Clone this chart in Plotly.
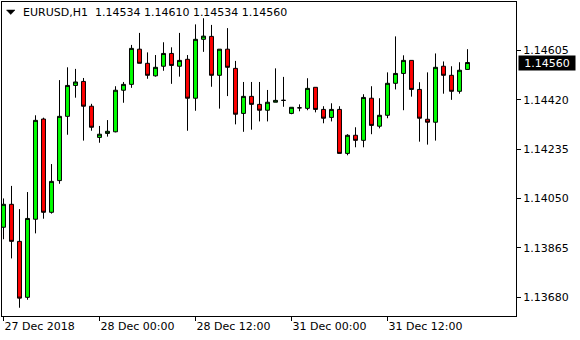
import pandas as pd
import plotly.graph_objects as go

symbol = "EURUSD,H1"

bar_times = list(pd.date_range("2018-12-27 12:00", "2018-12-28 23:00", freq="h")) + \
            list(pd.date_range("2018-12-31 00:00", periods=23, freq="h"))

opens = [1.13942, 1.14028, 1.13889, 1.13679, 1.13972, 1.14348, 1.13998, 1.14117, 1.14358, 1.14474,
         1.14489, 1.14396, 1.14279, 1.14294, 1.14300, 1.14456, 1.14478, 1.14610, 1.14557, 1.14510,
         1.14546, 1.14594, 1.14546, 1.14572, 1.14426, 1.14647, 1.14658, 1.14512, 1.14610, 1.14538,
         1.14369, 1.14433, 1.14403, 1.14381, 1.14411, 1.14418, 1.14369, 1.14390, 1.14388, 1.14467,
         1.14384, 1.14354, 1.14384, 1.14219, 1.14287, 1.14268, 1.14426, 1.14321, 1.14362, 1.14482,
         1.14519, 1.14568, 1.14459, 1.14347, 1.14336, 1.14546, 1.14512, 1.14452, 1.14534]
highs = [1.14050, 1.14097, 1.14010, 1.14074, 1.14362, 1.14353, 1.14179, 1.14494, 1.14542, 1.14536,
         1.14502, 1.14405, 1.14322, 1.14344, 1.14471, 1.14487, 1.14626, 1.14671, 1.14598, 1.14588,
         1.14636, 1.14617, 1.14671, 1.14588, 1.14703, 1.14726, 1.14701, 1.14610, 1.14689, 1.14566,
         1.14487, 1.14487, 1.14487, 1.14457, 1.14538, 1.14506, 1.14392, 1.14403, 1.14501, 1.14467,
         1.14396, 1.14407, 1.14396, 1.14291, 1.14317, 1.14441, 1.14471, 1.14426, 1.14523, 1.14658,
         1.14587, 1.14568, 1.14486, 1.14523, 1.14594, 1.14564, 1.14546, 1.14561, 1.14610]
lows = [1.13897, 1.13825, 1.13640, 1.13670, 1.13919, 1.13974, 1.13993, 1.14105, 1.14289, 1.14428,
        1.14267, 1.14304, 1.14259, 1.14282, 1.14298, 1.14409, 1.14465, 1.14557, 1.14499, 1.14507,
        1.14529, 1.14480, 1.14507, 1.14304, 1.14379, 1.14600, 1.14469, 1.14387, 1.14434, 1.14328,
        1.14300, 1.14308, 1.14339, 1.14339, 1.14411, 1.14394, 1.14366, 1.14377, 1.14381, 1.14373,
        1.14332, 1.14339, 1.14219, 1.14212, 1.14242, 1.14242, 1.14291, 1.14313, 1.14351, 1.14459,
        1.14381, 1.14432, 1.14263, 1.14252, 1.14267, 1.14443, 1.14420, 1.14443, 1.14534]
closes = [1.14028, 1.13889, 1.13676, 1.13975, 1.14343, 1.13998, 1.14114, 1.14358, 1.14474, 1.14487,
          1.14396, 1.14317, 1.14291, 1.14302, 1.14456, 1.14478, 1.14613, 1.14557, 1.14512, 1.14542,
          1.14594, 1.14549, 1.14568, 1.14426, 1.14647, 1.14659, 1.14512, 1.14610, 1.14542, 1.14366,
          1.14433, 1.14403, 1.14381, 1.14411, 1.14418, 1.14418, 1.14392, 1.14390, 1.14463, 1.14384,
          1.14351, 1.14384, 1.14219, 1.14287, 1.14268, 1.14429, 1.14324, 1.14362, 1.14482, 1.14519,
          1.14568, 1.14459, 1.14351, 1.14336, 1.14542, 1.14512, 1.14452, 1.14531, 1.14560]

x_tick_times = ["2018-12-27 12:00", "2018-12-28 00:00", "2018-12-28 12:00",
                "2018-12-31 00:00", "2018-12-31 12:00"]
x_tick_labels = ["27 Dec 2018", "28 Dec 00:00", "28 Dec 12:00", "31 Dec 00:00", "31 Dec 12:00"]
y_tick_values = [1.13680, 1.13865, 1.14050, 1.14235, 1.14420, 1.14605]
y_range = [1.13609, 1.14787]

idx = list(range(len(bar_times)))
time_to_idx = {t: i for i, t in enumerate(bar_times)}
x_tick_pos = [time_to_idx[pd.Timestamp(t)] for t in x_tick_times]

FONT = "DejaVu Sans"

fig = go.Figure(go.Candlestick(
    x=idx, open=opens, high=highs, low=lows, close=closes,
    increasing=dict(fillcolor="#00FF00", line=dict(color="black", width=1)),
    decreasing=dict(fillcolor="#FF0000", line=dict(color="black", width=1)),
    whiskerwidth=0, showlegend=False, hoverinfo="skip",
))

last = closes[-1]
header = symbol + "\u00a0\u00a0" + " ".join(f"{v:.5f}" for v in (opens[-1], highs[-1], lows[-1], closes[-1]))

fig.update_layout(
    width=580, height=340,
    margin=dict(l=2, r=64, t=2, b=24),
    paper_bgcolor="white", plot_bgcolor="white",
    font=dict(family=FONT, size=11, color="black"),
    boxgap=0.3, boxgroupgap=0.3,
    xaxis=dict(
        type="linear", range=[-0.1875, 64.0625], rangeslider=dict(visible=False),
        tickvals=x_tick_pos, ticktext=x_tick_labels,
        ticks="outside", ticklen=4, tickcolor="black", tickwidth=1,
        ticklabelposition="outside right",
        showline=True, linecolor="black", linewidth=1, mirror=True,
        showgrid=False, zeroline=False,
    ),
    yaxis=dict(
        side="right", range=y_range,
        tickvals=y_tick_values, ticktext=[f"{v:.5f}" for v in y_tick_values],
        ticks="outside", ticklen=4, tickcolor="black", tickwidth=1,
        showline=True, linecolor="black", linewidth=1, mirror=True,
        showgrid=False, zeroline=False,
    ),
    annotations=[
        dict(text=header, xref="paper", yref="paper", x=0, y=1, xanchor="left", yanchor="middle",
             xshift=19, yshift=-10.5, showarrow=False, font=dict(family=FONT, size=11, color="black")),
        dict(text=f"{last:.5f}", xref="paper", yref="y", x=1, y=last, xanchor="left", yanchor="middle",
             xshift=2, showarrow=False, bgcolor="black", width=56, height=14, borderpad=0,
             font=dict(family=FONT, size=11, color="white")),
    ],
    shapes=[
        dict(type="path", xref="paper", yref="paper",
             path="M 0.008755 0.974522 L 0.025292 0.974522 L 0.017023 0.960191 Z",
             fillcolor="black", line=dict(color="black", width=0.5)),
    ],
)

fig.write_html("out.html")
